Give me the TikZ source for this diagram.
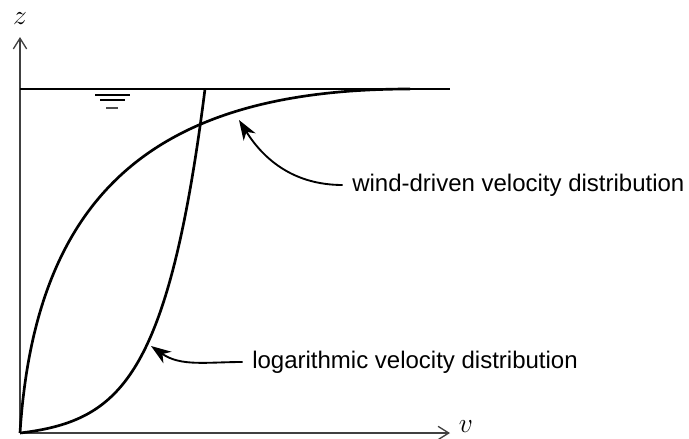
\documentclass[tikz,border=0pt]{standalone}
\usepackage{fontspec}
\setmainfont{Liberation Sans}
\usetikzlibrary{arrows.meta}

\tikzset{
  axis/.style={line width=1.1pt, draw=black!75, -{Straight Barb[length=8pt, width=10pt, line width=1pt]}},
  profile/.style={line width=2pt, line join=round},
  pointer/.style={line width=1.4pt, -{Stealth[length=15pt, width=10.5pt, inset=4.5pt]}},
  caption/.style={anchor=west, inner sep=0pt, font=\fontsize{18}{21}\selectfont},
  axislabel/.style={inner sep=0pt, font=\fontsize{21}{24}\selectfont},
}

\begin{document}
\begin{tikzpicture}[x=0.75pt, y=-0.75pt]
\useasboundingbox (0,0) rectangle (689,439);

% Axes
\coordinate (O) at (20,433);
\coordinate (ztop) at (20,37);
\coordinate (vend) at (450,433);
\draw[axis] (O) -- (ztop);
\draw[axis] (O) -- (vend);
\node[axislabel] (zlab) at (20,19) {$z$};
\node[axislabel] (vlab) at (466,427) {$v$};

% Water surface
\coordinate (sL) at (20,89);
\coordinate (sR) at (450,89);
\draw[line width=1pt] (sL) -- (sR);
\draw[line width=0.9pt] (95,95) -- (130,95);
\draw[line width=0.9pt] (100,100) -- (125,100);
\draw[line width=1.1pt, draw=black!70] (106,108) -- (118,108);

% Wind-driven profile
\draw[profile] (O) .. controls (35.6,192) and (156.5,89) .. (410,89);

% Logarithmic profile
\draw[profile] plot[domain=0:1, samples=80, smooth]
  ({20+185*\x}, {433-5.2367*(exp(4.2*\x)-1)});

% Labels
\coordinate (windtip) at (239,120);
\coordinate (logtip) at (151,346);
\node[caption] (windlab) at (352,185) {wind-driven velocity distribution};
\node[caption] (loglab) at (252,362) {logarithmic velocity distribution};
\draw[pointer] ([xshift=-7pt]windlab.west) to[out=180, in=-58] (windtip);
\draw[pointer] ([xshift=-7pt]loglab.west) to[out=180, in=-35] (logtip);

\end{tikzpicture}
\end{document}
